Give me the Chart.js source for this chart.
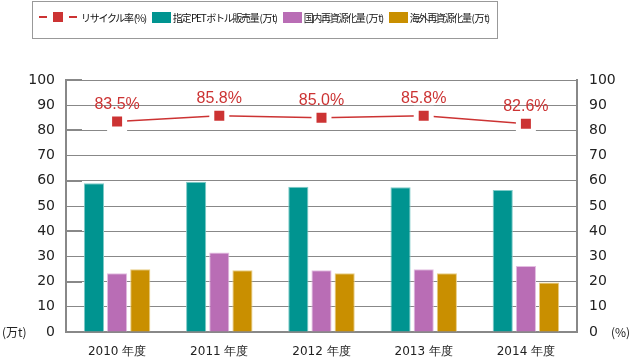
<!DOCTYPE html>
<html>
<head>
<meta charset="utf-8">
<script src="https://cdn.jsdelivr.net/npm/chart.js@4"></script>
<style>
  body { margin: 0; background: #fff; }
  #wrap { position: relative; width: 633px; height: 359px; }
  #legend {
    position: absolute; left: 32px; top: 1px; width: 464px; height: 30px; padding-bottom: 6px;
    border: 1px solid #999; display: flex; align-items: center;
    font-family: "Noto Sans CJK JP", sans-serif; font-size: 10px; letter-spacing: -1.3px; color: #111;
    box-sizing: content-box;
  }
  .item { display: flex; align-items: center; margin-right: 6px; white-space: nowrap; }
  .box { width: 19px; height: 11px; margin-right: 2px; }
  .dash { width: 8px; height: 2px; }
  .sq { width: 10px; height: 10px; margin: 0 6px; }
</style>
</head>
<body>
<div id="wrap">
  <div id="legend"></div>
  <canvas id="chart" width="633" height="359"></canvas>
</div>
<script>
const years = ['2010 年度', '2011 年度', '2012 年度', '2013 年度', '2014 年度'];
const recycleRate = [83.5, 85.8, 85.0, 85.8, 82.6];
const petSales = [59.0, 59.6, 57.6, 57.4, 56.3];
const domestic = [23.3, 31.5, 24.5, 24.9, 26.2];
const overseas = [24.9, 24.5, 23.3, 23.3, 19.6];

const labels = {
  rate: 'リサイクル率 (%)',
  pet: '指定 PET ボトル販売量 ( 万 t)',
  dom: '国内再資源化量 ( 万 t)',
  ovs: '海外再資源化量 ( 万 t)'
};

const red = '#cc3333';
const teal = '#009490';
const pink = '#b96db5';
const gold = '#c98f00';

// rate labels above the markers + unit labels next to the axes
const extras = {
  id: 'extras',
  afterDatasetsDraw(chart) {
    const ctx = chart.ctx;
    const meta = chart.getDatasetMeta(0);
    ctx.save();
    ctx.fillStyle = red;
    ctx.font = '16px "Liberation Sans"';
    ctx.textAlign = 'center';
    ctx.textBaseline = 'middle';
    meta.data.forEach((pt, i) => {
      ctx.fillText(recycleRate[i].toFixed(1) + '%', pt.x, pt.y - 17);
    });
    // short thicker ticks on left axis every 20
    const y = chart.scales.y;
    ctx.strokeStyle = '#888';
    ctx.lineWidth = 2;
    for (let v = 20; v <= 100; v += 20) {
      const py = Math.round(y.getPixelForValue(v));
      ctx.beginPath();
      ctx.moveTo(chart.chartArea.left, py);
      ctx.lineTo(chart.chartArea.left + 16, py);
      ctx.stroke();
    }
    ctx.fillStyle = '#222';
    ctx.font = '12px "Noto Sans CJK JP"';
    ctx.textAlign = 'left';
    const zy = y.getPixelForValue(0);
    ctx.fillText('(万t)', 2, zy);
    ctx.fillText('(%)', 611, zy);
    ctx.restore();
  }
};

const chart = new Chart(document.getElementById('chart'), {
  type: 'bar',
  data: {
    labels: years,
    datasets: [
      {
        type: 'line', label: labels.rate, data: recycleRate, yAxisID: 'y1',
        borderColor: red, borderWidth: 1.5, pointStyle: 'rect',
        pointRadius: 10.6, pointBackgroundColor: red,
        pointBorderColor: '#fff', pointBorderWidth: 5, order: 0
      },
      { label: labels.pet, data: petSales, backgroundColor: teal, borderColor: '#7fcbc8', borderWidth: 1, yAxisID: 'y', order: 1 },
      { label: labels.dom, data: domestic, backgroundColor: pink, borderColor: '#e3bde1', borderWidth: 1, yAxisID: 'y', order: 1 },
      { label: labels.ovs, data: overseas, backgroundColor: gold, borderColor: '#e8cd85', borderWidth: 1, yAxisID: 'y', order: 1 }
    ]
  },
  options: {
    responsive: false,
    animation: false,
    events: [],
    layout: { padding: { top: 80, left: 0, right: 0, bottom: 0 } },
    datasets: { bar: { categoryPercentage: 0.68, barPercentage: 0.87 } },
    plugins: { legend: { display: false }, tooltip: { enabled: false } },
    scales: {
      x: {
        grid: { display: false },
        border: { display: true, color: '#888', width: 2 },
        ticks: { color: '#222', font: { family: 'DejaVu Sans', size: 12 }, padding: 5 },
        afterFit(s) { s.height = 27; }
      },
      y: {
        position: 'left', min: 0, max: 100,
        grid: { color: '#888', lineWidth: 1, drawTicks: false },
        border: { display: true, color: '#888', width: 2 },
        ticks: { stepSize: 10, color: '#222', font: { family: 'DejaVu Sans', size: 14 }, padding: 11 },
        afterFit(s) { s.width = 66; }
      },
      y1: {
        position: 'right', min: 0, max: 100,
        grid: { display: false, drawTicks: false },
        border: { display: true, color: '#888', width: 2 },
        ticks: { stepSize: 10, color: '#222', font: { family: 'DejaVu Sans', size: 14 }, padding: 12 },
        afterFit(s) { s.width = 56; }
      }
    }
  },
  plugins: [extras]
});

// legend built from the chart's datasets
const legend = document.getElementById('legend');
chart.data.datasets.forEach((ds, i) => {
  const item = document.createElement('div');
  item.className = 'item';
  if (ds.type === 'line') {
    item.style.marginLeft = '6px';
    item.innerHTML = '<span class="dash" style="background:' + red + '"></span>' +
      '<span class="sq" style="background:' + red + '"></span>' +
      '<span class="dash" style="background:' + red + ';margin-right:4px"></span>';
  } else {
    item.innerHTML = '<span class="box" style="background:' + ds.backgroundColor + '"></span>';
  }
  item.appendChild(document.createTextNode(ds.label));
  legend.appendChild(item);
});
</script>
</body>
</html>
